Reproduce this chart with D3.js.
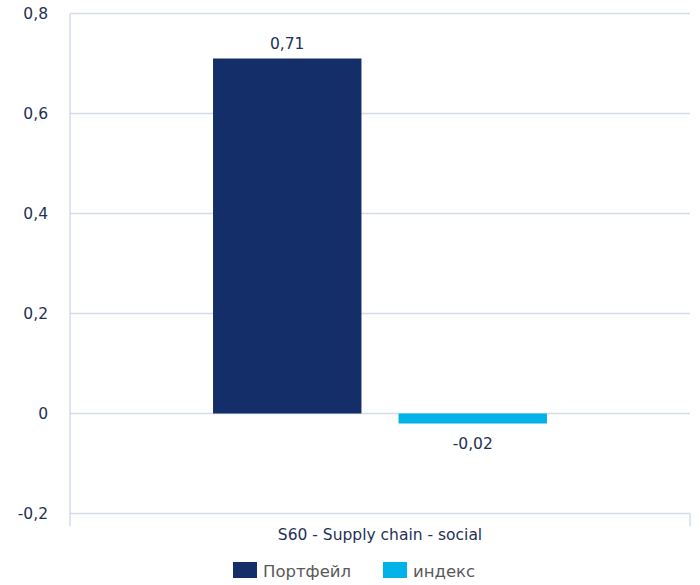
<html>
<head>
<meta charset="utf-8">
<style>
  body { margin: 0; background: #fff; }
  text { font-family: "DejaVu Sans", Verdana, sans-serif; }
</style>
</head>
<body>
<svg id="chart" width="700" height="585"></svg>
<script src="https://cdn.jsdelivr.net/npm/d3@7"></script>
<script>
let categories = ["S60 - Supply chain - social"]
let seriesNames = ["Портфейл", "индекс"]
let seriesColors = ["#132e69", "#00b2e8"]
let portfolioValues = [0.71]
let indexValues = [-0.02]
let yTicks = [-0.2, 0, 0.2, 0.4, 0.6, 0.8]

let svg = d3.select("#chart")
let plotLeft = 70, plotRight = 690, plotTop = 13.5, plotBottom = 513.5

let y = d3.scaleLinear().domain([-0.2, 0.8]).range([plotBottom, plotTop])
let x0 = d3.scaleBand().domain(categories).range([plotLeft, plotRight]).padding(0)
let x1 = d3.scaleBand().domain(seriesNames).range([0, x0.bandwidth()])
    .paddingInner(0.2).paddingOuter(0.771)
let fmt = v => String(v).replace(".", ",")

// gridlines
svg.append("g").selectAll("line")
    .data(yTicks)
    .enter().append("line")
    .attr("x1", plotLeft).attr("x2", plotRight)
    .attr("y1", d => y(d)).attr("y2", d => y(d))
    .attr("stroke", "#d3dce9").attr("stroke-width", 1.5)

// left axis line and right tick
svg.append("line").attr("x1", plotLeft).attr("x2", plotLeft)
    .attr("y1", plotTop).attr("y2", plotBottom + 13)
    .attr("stroke", "#d3dce9").attr("stroke-width", 1.5)
svg.append("line").attr("x1", plotRight).attr("x2", plotRight)
    .attr("y1", plotBottom).attr("y2", plotBottom + 13)
    .attr("stroke", "#d3dce9").attr("stroke-width", 1.5)

// y labels
svg.append("g").selectAll("text")
    .data(yTicks)
    .enter().append("text")
    .attr("x", 48).attr("y", d => y(d))
    .attr("dy", "0.35em")
    .attr("text-anchor", "end")
    .attr("font-size", 15.5)
    .attr("fill", "#1f3157")
    .text(d => fmt(d))

let rows = categories.map((c, i) => ({ cat: c, values: [portfolioValues[i], indexValues[i]] }))

rows.forEach(row => {
    let g = svg.append("g").attr("transform", `translate(${x0(row.cat)},0)`)
    let data = row.values.map((v, i) => ({ name: seriesNames[i], value: v, color: seriesColors[i] }))
    g.selectAll("rect")
        .data(data)
        .enter().append("rect")
        .attr("x", d => x1(d.name))
        .attr("width", x1.bandwidth())
        .attr("y", d => y(Math.max(0, d.value)))
        .attr("height", d => Math.abs(y(d.value) - y(0)))
        .attr("fill", d => d.color)
    g.selectAll("text.val")
        .data(data)
        .enter().append("text")
        .attr("class", "val")
        .attr("x", d => x1(d.name) + x1.bandwidth() / 2)
        .attr("y", d => d.value >= 0 ? y(d.value) - 10 : y(d.value) + 25)
        .attr("text-anchor", "middle")
        .attr("font-size", 15.5)
        .attr("fill", "#1f3157")
        .text(d => fmt(d.value))
})

// category label
svg.append("g").selectAll("text")
    .data(categories)
    .enter().append("text")
    .attr("x", d => x0(d) + x0.bandwidth() / 2)
    .attr("y", 540)
    .attr("text-anchor", "middle")
    .attr("font-size", 15.5)
    .attr("fill", "#1f3157")
    .text(d => d)

// legend
let legendX = [233, 383]
let legend = svg.append("g").selectAll("g")
    .data(seriesNames)
    .enter().append("g")
    .attr("transform", (d, i) => `translate(${legendX[i]},562)`)
legend.append("rect").attr("width", 24).attr("height", 16)
    .attr("fill", (d, i) => seriesColors[i])
legend.append("text").attr("x", 30).attr("y", 9).attr("dy", "0.35em")
    .attr("font-size", 16.5).attr("fill", "#595959")
    .text(d => d)
</script>
</body>
</html>
